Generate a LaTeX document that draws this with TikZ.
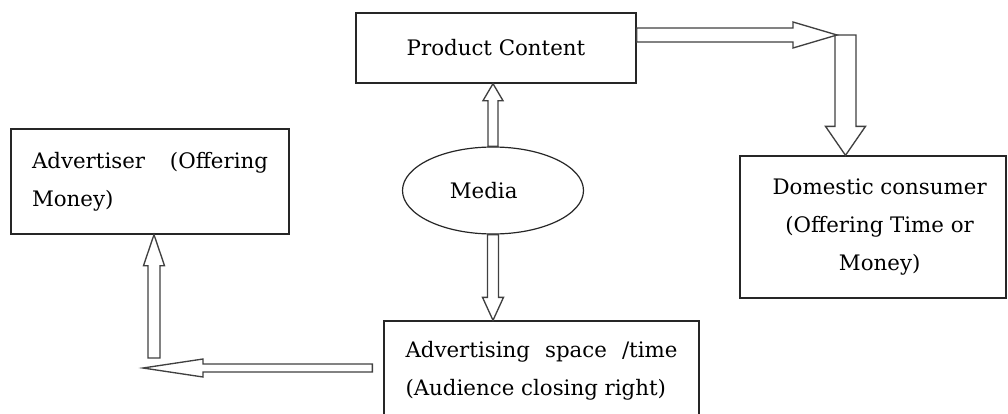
\documentclass[tikz,border=0pt]{standalone}
\usepackage{fontspec}
\setmainfont{DejaVu Serif}
\usetikzlibrary{calc,shapes.geometric}

\newcommand\labelfont{\fontsize{16pt}{28.5pt}\selectfont}

\tikzset{
  box/.style={draw=black!85, line width=1pt, rectangle, inner sep=0pt, font=\labelfont},
  oval/.style={draw=black!85, line width=0.9pt, ellipse, inner sep=0pt, font=\labelfont},
  blockarrow/.style={draw=black!75, line width=1pt, fill=white, line join=miter},
}

% Hollow block arrow.
% #1 shaft half-width, #2 head half-width, #3 head length (all in px),
% #4 tail coordinate, #5 tip coordinate
\newcommand\hollowarrow[5]{%
  \coordinate (ha-base) at ($(#5)!#3*0.75pt!(#4)$);
  \draw[blockarrow]
    ($(#4)!#1*0.75pt!90:(#5)$) -- ($(ha-base)!#1*0.75pt!-90:(#4)$)
    -- ($(ha-base)!#2*0.75pt!-90:(#4)$) -- (#5)
    -- ($(ha-base)!#2*0.75pt!90:(#4)$) -- ($(ha-base)!#1*0.75pt!90:(#4)$)
    -- ($(#4)!#1*0.75pt!-90:(#5)$) -- cycle;
}

\begin{document}
\begin{tikzpicture}[x=0.75pt,y=-0.75pt]
\useasboundingbox (0,0) rectangle (1008,414);
\clip (0,0) rectangle (1008,414);

% boxes
\node[box, minimum width=210pt, minimum height=52.5pt] (prod) at (496,48) {Product Content};
\node[box, minimum width=208.5pt, minimum height=78.75pt, align=left] (adv) at (150,181.5)
  {\makebox[177pt][s]{Advertiser (Offering}\\Money)};
\node[box, minimum width=199.5pt, minimum height=106.5pt, align=center] (dom) at (873,227)
  {\hspace*{10pt}Domestic consumer\\\hspace*{10pt}(Offering Time or\\\hspace*{10pt}Money)};
\node[box, minimum width=236.25pt, minimum height=75pt, align=left] (space) at (541.5,371)
  {\makebox[204pt][s]{Advertising space /time}\\(Audience closing right)};
\node[oval, minimum width=135.75pt, minimum height=65.25pt] (media) at (493,190.5)
  {Media\hspace*{14pt}};

% connector end points
\coordinate (up-tip) at (media.north |- prod.south);
\coordinate (down-tip) at (media.south |- space.north);
\coordinate (bend) at (845.5,35);
\coordinate (top-tail) at (prod.east |- bend);
\coordinate (top-tip) at ($(bend)+(-8.5,0)$);
\coordinate (dom-tip) at (bend |- dom.north);
\coordinate (elbow) at (154,368);
\coordinate (left-tail) at ($(space.west |- elbow)+(-11,0)$);
\coordinate (left-tip) at ($(elbow)+(-11,0)$);
\coordinate (rise-tail) at ($(elbow)+(0,-10)$);
\coordinate (rise-tip) at (elbow |- adv.south);

% hollow arrows
\hollowarrow{5}{10}{17}{media.north}{up-tip}
\hollowarrow{5.5}{10.5}{23}{media.south}{down-tip}
\hollowarrow{10.5}{20}{29}{bend}{dom-tip}
\hollowarrow{7}{13}{44}{top-tail}{top-tip}
\hollowarrow{4}{9}{60}{left-tail}{left-tip}
\hollowarrow{6}{10.5}{31}{rise-tail}{rise-tip}
\end{tikzpicture}
\end{document}
